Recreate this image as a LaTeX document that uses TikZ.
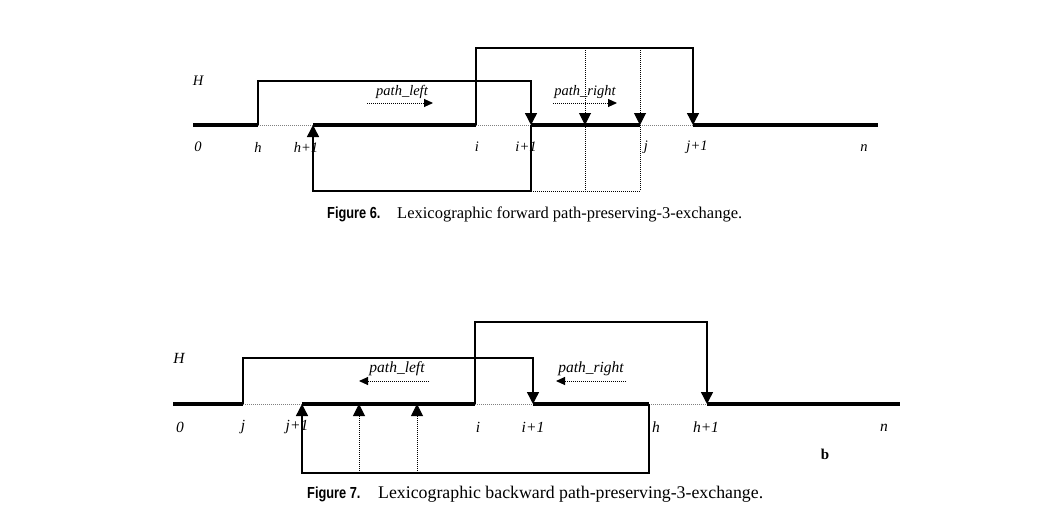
\documentclass[tikz,border=0pt]{standalone}
\usepackage{fontspec}
\setmainfont{Liberation Serif}
\newfontfamily\capsans{Liberation Sans}
\usetikzlibrary{arrows.meta}

\tikzset{
  base/.style={black, line width=3.2pt},
  gap/.style={gray, line width=0.8pt, dash pattern=on 1pt off 1pt},
  arc/.style={black, line width=1.4pt},
  dots/.style={black, line width=1pt, dash pattern=on 1pt off 1pt},
  tip/.style={-{Triangle[width=12pt,length=12pt]}},
  small tip/.style={-{Triangle[width=8pt,length=9pt]}},
  lab/.style={font=\fontsize{14.5}{16}\selectfont\itshape, inner sep=0pt},
  biglab/.style={font=\fontsize{15.5}{17}\selectfont\itshape, inner sep=0pt},
  captext/.style={font=\fontsize{16.5}{19}\selectfont, inner sep=0pt, anchor=west},
  fig/.style={font=\capsans\bfseries\fontsize{16}{18}\selectfont, inner sep=0pt, anchor=west},
}
\newcommand{\figname}[1]{\scalebox{0.8}[1]{#1}}

\begin{document}
\begin{tikzpicture}[x=1pt, y=-1pt]
\useasboundingbox (0,0) rectangle (1049,530);

%% Figure 6, baseline y=125
\coordinate (a0) at (193,125);
\coordinate (h) at (258,125);
\coordinate (h1) at (313,125);
\coordinate (i) at (476,125);
\coordinate (i1) at (531,125);
\coordinate (m) at (585,125);
\coordinate (j) at (640,125);
\coordinate (j1) at (693,125);
\coordinate (n) at (878,125);

\draw [base] (a0) -- (h);
\draw [gap] (h) -- (h1);
\draw [base] (h1) -- (i);
\draw [gap] (i) -- (i1);
\draw [base] (i1) -- (j);
\draw [gap] (j) -- (j1);
\draw [base] (j1) -- (n);

\draw [arc, tip] (h) -- ++(0,-44) -| (i1);  % top 81
\draw [arc, tip] (i) -- ++(0,-77) -| (j1);  % top 48
\draw [arc, tip] (i1) -- ++(0,66) -| (h1);  % bottom 191

\coordinate (mt) at (585,48);
\coordinate (mb) at (585,191);
\coordinate (jt) at (640,48);
\coordinate (jb) at (640,191);
\coordinate (i1b) at (531,191);
\draw [dots] (i1b) -- (jb);
\draw [dots, tip] (mt) -- (m);
\draw [dots] (m) -- (mb);
\draw [dots, tip] (jt) -- (j);
\draw [dots] (j) -- (jb);

\node [lab] (H6) at (198,81) {H};
\node [lab] (t0) at (198,147) {0};
\node [lab] (th) at (258,147) {h};
\node [lab] (th1) at (306,147) {h+1};
\node [lab] (ti) at (477,147) {i};
\node [lab] (ti1) at (526,147) {i+1};
\node [lab] (tj) at (646,147) {j};
\node [lab] (tj1) at (697,147) {j+1};
\node [lab] (tn) at (864,148) {n};

\node [lab] (pl) at (402,92) {path\_left};
\coordinate (pla) at (367,103);
\coordinate (plb) at (433,103);
\draw [dots, small tip] (pla) -- (plb);
\node [lab] (pr) at (585,92) {path\_right};
\coordinate (pra) at (553,103);
\coordinate (prb) at (617,103);
\draw [dots, small tip] (pra) -- (prb);

\node [fig] (f6) at (327,214) {\figname{Figure 6.}};
\node [captext] (c6) at (397,214) {Lexicographic forward path-preserving-3-exchange.};

%% Figure 7, baseline y=404
\coordinate (b0) at (173,404);
\coordinate (bj) at (243,404);
\coordinate (bj1) at (302,404);
\coordinate (bi) at (475,404);
\coordinate (bi1) at (533,404);
\coordinate (bh) at (649,404);
\coordinate (bh1) at (707,404);
\coordinate (bn) at (900,404);

\draw [base] (b0) -- (bj);
\draw [gap] (bj) -- (bj1);
\draw [base] (bj1) -- (bi);
\draw [gap] (bi) -- (bi1);
\draw [base] (bi1) -- (bh);
\draw [gap] (bh) -- (bh1);
\draw [base] (bh1) -- (bn);

\draw [arc, tip] (bj) -- ++(0,-46) -| (bi1);  % top 358
\draw [arc, tip] (bi) -- ++(0,-82) -| (bh1);  % top 322
\draw [arc, tip] (bh) -- ++(0,69) -| (bj1);   % bottom 473

\coordinate (u1b) at (359,473);
\coordinate (u1) at (359,404);
\coordinate (u2b) at (417,473);
\coordinate (u2) at (417,404);
\draw [dots, tip] (u1b) -- (u1);
\draw [dots, tip] (u2b) -- (u2);

\node [biglab] (H7) at (179,358) {H};
\node [biglab] (s0) at (180,427) {0};
\node [biglab] (sj) at (243,427) {j};
\node [biglab] (sj1) at (297,427) {j+1};
\node [biglab] (si) at (478,427) {i};
\node [biglab] (si1) at (533,427) {i+1};
\node [biglab] (sh) at (656,427) {h};
\node [biglab] (sh1) at (706,427) {h+1};
\node [biglab] (sn) at (884,428) {n};
\node [font=\fontsize{15}{17}\selectfont\bfseries, inner sep=0pt] (bb) at (825,454) {b};

\node [biglab] (ql) at (397,369) {path\_left};
\coordinate (qla) at (429,381);
\coordinate (qlb) at (359,381);
\draw [dots, small tip] (qla) -- (qlb);
\node [biglab] (qr) at (591,369) {path\_right};
\coordinate (qra) at (626,381);
\coordinate (qrb) at (556,381);
\draw [dots, small tip] (qra) -- (qrb);

\node [fig] (f7) at (307,494) {\figname{Figure 7.}};
\node [captext, font=\fontsize{17.8}{20}\selectfont] (c7) at (378,494) {Lexicographic backward path-preserving-3-exchange.};
\end{tikzpicture}
\end{document}
